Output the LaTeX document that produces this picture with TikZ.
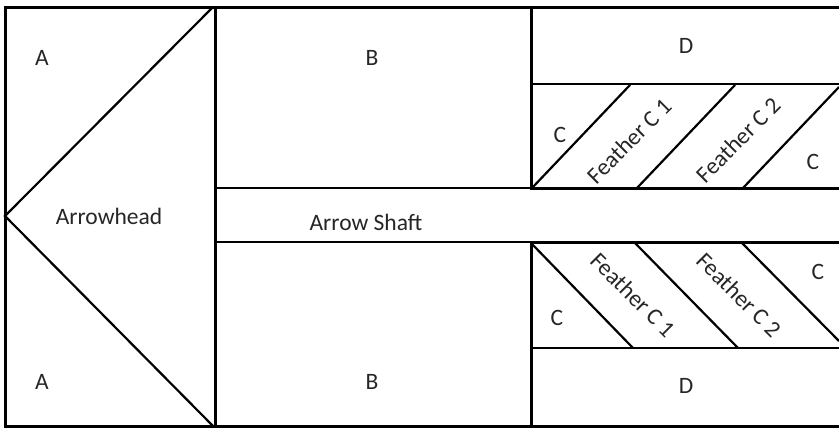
\documentclass[tikz,border=0pt]{standalone}
\usepackage{fontspec}
\setmainfont{Carlito}

\begin{document}
\begin{tikzpicture}[x=1pt, y=-1pt, every node/.style={font=\fontsize{23.5}{26}\selectfont, text=black!85, inner sep=0pt},
  heavy/.style={line width=3pt}, light/.style={line width=2.2pt}]
\useasboundingbox (0,0) rectangle (839,429);
\coordinate (tl) at (5,7);
\coordinate (bl) at (5,426);
\coordinate (tip) at (5,216);
\coordinate (ht) at (213,7);
\coordinate (hb) at (213,426);
\coordinate (tr) at (839,7);
\coordinate (br) at (839,426);
% outer frame and head
\draw[heavy] (tr) -- (tl) -- (bl) -- (br);
\draw[heavy] (215,7) -- (215,426);
\draw[light] (ht) -- (tip) -- (hb);
% shaft
\draw[light] (215,188) -- (531,188) (215,242) -- (531,242);
% upper fletching
\draw[heavy] (531,7) -- (531,188) -- (839,188);
\draw[light] (531,84) -- (839,84);
\draw[light] (532,188) -- (630,85) (637,188) -- (735,85) (743,188) -- (839,87);
% lower fletching
\draw[heavy] (531,426) -- (531,242) -- (839,242);
\draw[light] (531,348) -- (839,348);
\draw[light] (531,243) -- (633,348) (635,243) -- (738,348) (742,243) -- (839,341);
% labels
\node (A1) at (42,58) {A};
\node (A2) at (42,382) {A};
\node (head) at (109,216) {Arrowhead};
\node (B1) at (372,58) {B};
\node (B2) at (372,382) {B};
\node (shaft) at (366,222) {Arrow Shaft};
\node (D1) at (686,46) {D};
\node (D2) at (686,386) {D};
\node (C1) at (560,135) {C};
\node (C2) at (813,162) {C};
\node (C3) at (557,318) {C};
\node (C4) at (818,272) {C};
\node[rotate=45] (F1) at (629,141) {Feather C 1};
\node[rotate=45] (F2) at (738,140) {Feather C 2};
\node[rotate=-45] (F3) at (633,295) {Feather C 1};
\node[rotate=-45] (F4) at (739,295) {Feather C 2};
\end{tikzpicture}
\end{document}
